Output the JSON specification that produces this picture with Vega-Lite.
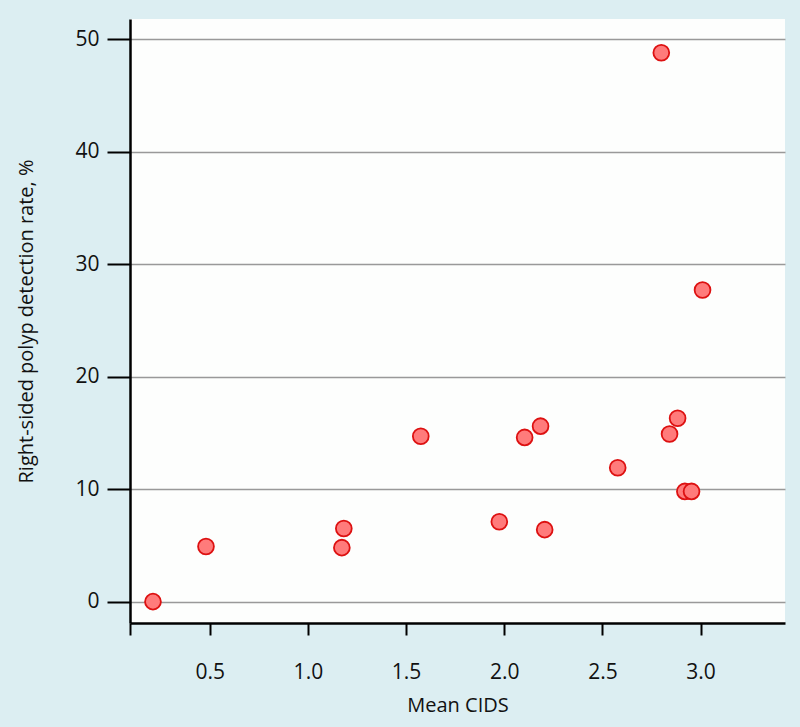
{
  "$schema": "https://vega.github.io/schema/vega-lite/v6.json",
  "width": 655,
  "height": 604,
  "autosize": {"type": "none"},
  "padding": {"left": 130, "top": 19, "right": 15, "bottom": 104},
  "background": "#dceef2",
  "config": {
    "view": {"fill": "#fdfefd", "stroke": null}
  },
  "data": {
    "values": [
      {"cids": 0.211, "pdr": 0.0},
      {"cids": 0.481, "pdr": 4.9},
      {"cids": 1.173, "pdr": 4.8},
      {"cids": 1.183, "pdr": 6.5},
      {"cids": 1.575, "pdr": 14.7},
      {"cids": 1.975, "pdr": 7.1},
      {"cids": 2.104, "pdr": 14.6},
      {"cids": 2.185, "pdr": 15.6},
      {"cids": 2.206, "pdr": 6.4},
      {"cids": 2.578, "pdr": 11.9},
      {"cids": 2.80, "pdr": 48.8},
      {"cids": 2.842, "pdr": 14.9},
      {"cids": 2.883, "pdr": 16.3},
      {"cids": 2.92, "pdr": 9.8},
      {"cids": 2.954, "pdr": 9.8},
      {"cids": 3.01, "pdr": 27.7}
    ]
  },
  "mark": {"type": "point", "shape": "circle", "filled": true, "fill": "#ff7b7b", "stroke": "#dd1111", "strokeWidth": 1.8, "opacity": 1, "size": 250},
  "encoding": {
    "x": {
      "field": "cids",
      "type": "quantitative",
      "title": "Mean CIDS",
      "scale": {"domain": [0.094, 3.43], "nice": false, "zero": false},
      "axis": {
        "values": [0.094, 0.5, 1.0, 1.5, 2.0, 2.5, 3.0],
        "labelExpr": "datum.value < 0.2 ? '' : format(datum.value, '.1f')",
        "grid": false,
        "tickSize": 12,
        "labelPadding": 26,
        "titlePadding": 13,
        "labelFont": "Open Sans",
        "titleFont": "Open Sans",
        "labelFontSize": 21,
        "titleFontSize": 20,
        "labelColor": "#111",
        "titleColor": "#111",
        "titleFontWeight": "normal",
        "domainColor": "#000",
        "domainWidth": 2.5,
        "tickColor": "#000",
        "tickWidth": 2
      }
    },
    "y": {
      "field": "pdr",
      "type": "quantitative",
      "title": "Right-sided polyp detection rate, %",
      "scale": {"domain": [-1.9, 51.8], "nice": false, "zero": false},
      "axis": {
        "values": [0, 10, 20, 30, 40, 50],
        "tickSize": 23,
        "labelPadding": 8,
        "titlePadding": 38,
        "labelFont": "Open Sans",
        "titleFont": "Open Sans",
        "labelFontSize": 21,
        "titleFontSize": 20,
        "labelColor": "#111",
        "titleColor": "#111",
        "titleFontWeight": "normal",
        "domainColor": "#000",
        "domainWidth": 2.5,
        "tickColor": "#000",
        "tickWidth": 2,
        "gridColor": "#999",
        "gridWidth": 1.5
      }
    }
  }
}
